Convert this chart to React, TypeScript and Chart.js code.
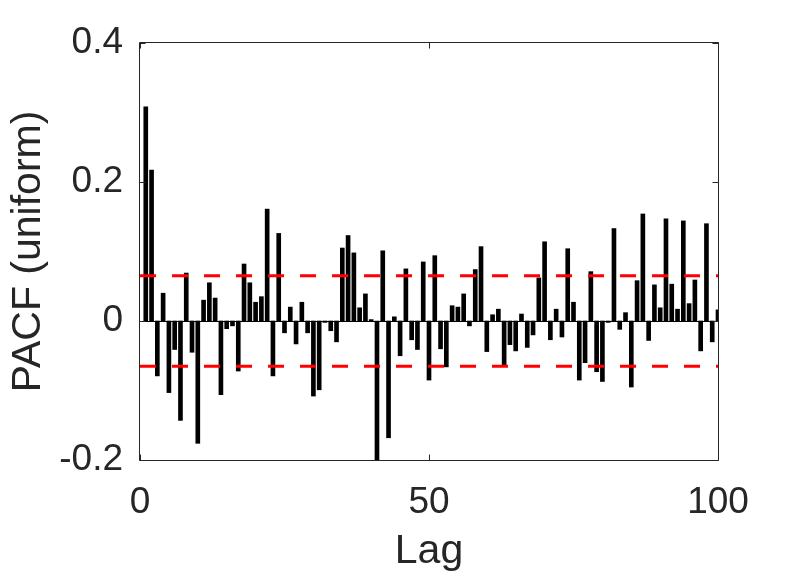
import React, { useEffect, useRef } from "react";
import { Chart, registerables } from "chart.js";

Chart.register(...registerables);

const lags: number[] = Array.from({ length: 100 }, (_, i) => i + 1);

const pacfValues: number[] = [
  0.308, 0.217, -0.079, 0.040, -0.103, -0.041, -0.143, 0.069, -0.045, -0.176,
  0.030, 0.055, 0.033, -0.106, -0.011, -0.007, -0.072, 0.082, 0.055, 0.027,
  0.035, 0.161, -0.079, 0.126, -0.017, 0.020, -0.033, 0.027, -0.017, -0.108,
  -0.099, -0.002, -0.014, -0.030, 0.105, 0.123, 0.098, 0.019, 0.039, 0.002,
  -0.205, 0.101, -0.168, 0.006, -0.050, 0.075, -0.027, -0.041, 0.085, -0.085,
  0.094, -0.040, -0.066, 0.022, 0.020, 0.039, -0.007, 0.074, 0.107, -0.044,
  0.009, 0.017, -0.063, -0.034, -0.043, 0.010, -0.038, -0.020, 0.062, 0.114,
  -0.027, 0.017, -0.023, 0.104, 0.027, -0.085, -0.060, 0.071, -0.073, -0.087,
  -0.002, 0.133, -0.012, 0.012, -0.095, 0.058, 0.154, -0.028, 0.052, 0.019,
  0.147, 0.053, 0.017, 0.144, 0.025, 0.059, -0.043, 0.140, -0.030, 0.016,
];

const confBound = 0.065;
const xTicks: number[] = [0, 50, 100];
const yTicks: number[] = [-0.2, 0, 0.2, 0.4];
const xLabel = "Lag";
const yLabel = "PACF (uniform)";

const AXIS_COLOR = "#262626";
const FONT = "'Liberation Sans', Arial, Helvetica, sans-serif";

const boxPlugin = {
  id: "matlabBox",
  beforeDatasetsDraw(chart: any) {
    const { ctx, chartArea, scales } = chart;
    const y0 = scales.y.getPixelForValue(0);
    ctx.save();
    ctx.strokeStyle = "#000";
    ctx.lineWidth = 1;
    ctx.beginPath();
    ctx.moveTo(chartArea.left, Math.round(y0) + 0.5);
    ctx.lineTo(chartArea.right, Math.round(y0) + 0.5);
    ctx.stroke();
    ctx.restore();
  },
  afterDraw(chart: any) {
    const { ctx, chartArea, scales } = chart;
    const { left, right, top, bottom } = chartArea;
    const tl = 6;
    ctx.save();
    ctx.strokeStyle = AXIS_COLOR;
    ctx.lineWidth = 1;
    ctx.beginPath();
    const L = Math.round(left) - 0.5;
    const R = Math.round(right) + 0.5;
    const T = Math.round(top) - 0.5;
    const B = Math.round(bottom) + 0.5;
    ctx.rect(L, T, R - L, B - T);
    for (const v of xTicks) {
      const x = Math.round(scales.x.getPixelForValue(v)) + 0.5;
      ctx.moveTo(x, B);
      ctx.lineTo(x, B - tl);
      ctx.moveTo(x, T);
      ctx.lineTo(x, T + tl);
    }
    for (const v of yTicks) {
      const y = Math.round(scales.y.getPixelForValue(v)) + 0.5;
      ctx.moveTo(L, y);
      ctx.lineTo(L + tl, y);
      ctx.moveTo(R, y);
      ctx.lineTo(R - tl, y);
    }
    ctx.stroke();
    ctx.restore();
  },
};

export default function App() {
  const canvasRef = useRef<HTMLCanvasElement | null>(null);

  useEffect(() => {
    const canvas = canvasRef.current;
    if (!canvas) return;
    const chart = new Chart(canvas, {
      type: "bar",
      data: {
        datasets: [
          {
            type: "line",
            data: [
              { x: 0, y: confBound },
              { x: 100, y: confBound },
            ],
            borderColor: "#FF0000",
            borderWidth: 3,
            borderDash: [16, 16],
            pointRadius: 0,
            fill: false,
            order: 0,
          } as any,
          {
            type: "line",
            data: [
              { x: 0, y: -confBound },
              { x: 100, y: -confBound },
            ],
            borderColor: "#FF0000",
            borderWidth: 3,
            borderDash: [16, 16],
            pointRadius: 0,
            fill: false,
            order: 0,
          } as any,
          {
            type: "bar",
            data: lags.map((l, i) => ({ x: l, y: pacfValues[i] })),
            backgroundColor: "#000000",
            borderWidth: 0,
            barThickness: 4,
            order: 1,
          } as any,
        ],
      },
      options: {
        animation: false,
        responsive: false,
        events: [],
        layout: { padding: { top: 43, right: 76, left: 0, bottom: 0 } },
        plugins: {
          legend: { display: false },
          tooltip: { enabled: false },
        },
        scales: {
          x: {
            type: "linear",
            min: 0,
            max: 100,
            offset: false,
            grid: { display: false, drawTicks: false, offset: false },
            border: { display: false },
            afterBuildTicks: (scale: any) => {
              scale.ticks = xTicks.map((v) => ({ value: v }));
            },
            afterFit: (scale: any) => {
              scale.height = 118;
            },
            ticks: {
              padding: 21,
              color: AXIS_COLOR,
              font: { family: FONT, size: 37 },
              maxRotation: 0,
              callback: (v: any) => String(v),
            },
            title: {
              display: true,
              text: xLabel,
              color: AXIS_COLOR,
              font: { family: FONT, size: 41 },
              padding: { top: 0, bottom: 2 },
            },
          },
          y: {
            type: "linear",
            min: -0.2,
            max: 0.4,
            grid: { display: false, drawTicks: false },
            border: { display: false },
            afterBuildTicks: (scale: any) => {
              scale.ticks = yTicks.map((v) => ({ value: v }));
            },
            afterFit: (scale: any) => {
              scale.width = 140;
            },
            ticks: {
              padding: 17,
              color: AXIS_COLOR,
              font: { family: FONT, size: 37 },
              callback: (v: any) => (Math.abs(v) < 1e-9 ? "0" : Number(v).toFixed(1)),
            },
            title: {
              display: true,
              text: yLabel,
              color: AXIS_COLOR,
              font: { family: FONT, size: 41 },
              padding: { top: 4, bottom: 0 },
            },
          },
        },
      },
      plugins: [boxPlugin],
    });
    return () => chart.destroy();
  }, []);

  return (
    <div style={{ position: "fixed", left: 0, top: 0, width: 794, height: 578, background: "#fff" }}>
      <canvas ref={canvasRef} width={794} height={578} style={{ width: 794, height: 578 }} />
    </div>
  );
}
